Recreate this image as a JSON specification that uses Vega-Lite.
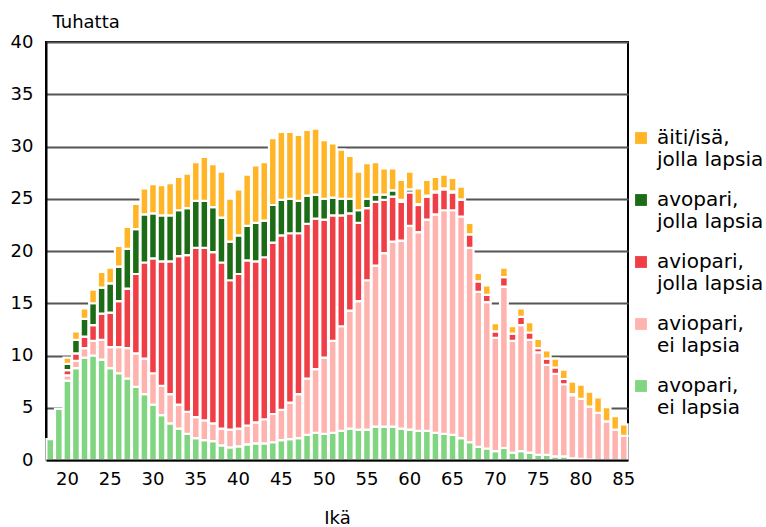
{
  "$schema": "https://vega.github.io/schema/vega-lite/v6.json",
  "autosize": {"type": "none"},
  "padding": {"left": 46, "top": 42, "right": 138, "bottom": 67},
  "width": 582,
  "height": 418,
  "background": "white",
  "config": {
    "view": {"stroke": "#000000", "strokeWidth": 2},
    "font": "DejaVu Sans",
    "axis": {"labelFont": "DejaVu Sans", "titleFont": "DejaVu Sans", "labelColor": "#000000", "titleColor": "#000000", "labelFontSize": 18, "titleFontSize": 18, "titleFontWeight": "normal"},
    "legend": {"labelFont": "DejaVu Sans", "labelFontSize": 20, "labelColor": "#000000"}
  },
  "data": {
    "values": [
      {"ika": 18, "ve": 2.0, "ae": 0, "aj": 0, "vj": 0, "ai": 0},
      {"ika": 19, "ve": 4.9, "ae": 0, "aj": 0, "vj": 0, "ai": 0},
      {"ika": 20, "ve": 7.6, "ae": 0.5, "aj": 0.5, "vj": 0.6, "ai": 0.6},
      {"ika": 21, "ve": 8.8, "ae": 0.7, "aj": 0.7, "vj": 1.3, "ai": 0.8},
      {"ika": 22, "ve": 9.8, "ae": 0.9, "aj": 1.1, "vj": 1.7, "ai": 1.0},
      {"ika": 23, "ve": 10.0, "ae": 1.4, "aj": 1.5, "vj": 2.1, "ai": 1.3},
      {"ika": 24, "ve": 9.6, "ae": 1.9, "aj": 2.5, "vj": 2.5, "ai": 1.5},
      {"ika": 25, "ve": 8.8, "ae": 2.0, "aj": 3.3, "vj": 2.8, "ai": 1.5},
      {"ika": 26, "ve": 8.3, "ae": 2.5, "aj": 4.4, "vj": 3.3, "ai": 2.0},
      {"ika": 27, "ve": 7.8, "ae": 2.9, "aj": 5.7, "vj": 3.8, "ai": 2.1},
      {"ika": 28, "ve": 7.0, "ae": 3.2, "aj": 7.6, "vj": 4.3, "ai": 2.4},
      {"ika": 29, "ve": 6.3, "ae": 3.4, "aj": 9.2, "vj": 4.6, "ai": 2.5},
      {"ika": 30, "ve": 5.3, "ae": 3.0, "aj": 11.0, "vj": 4.3, "ai": 2.8},
      {"ika": 31, "ve": 4.3, "ae": 2.8, "aj": 11.9, "vj": 4.4, "ai": 2.9},
      {"ika": 32, "ve": 3.5, "ae": 2.8, "aj": 12.7, "vj": 4.4, "ai": 3.1},
      {"ika": 33, "ve": 3.0, "ae": 2.3, "aj": 14.2, "vj": 4.4, "ai": 3.2},
      {"ika": 34, "ve": 2.5, "ae": 2.1, "aj": 15.0, "vj": 4.5, "ai": 3.3},
      {"ika": 35, "ve": 2.1, "ae": 2.0, "aj": 16.2, "vj": 4.5, "ai": 3.7},
      {"ika": 36, "ve": 1.9, "ae": 1.9, "aj": 16.5, "vj": 4.5, "ai": 4.2},
      {"ika": 37, "ve": 1.8, "ae": 1.7, "aj": 16.4, "vj": 4.3, "ai": 4.1},
      {"ika": 38, "ve": 1.4, "ae": 1.6, "aj": 15.9, "vj": 4.3, "ai": 4.4},
      {"ika": 39, "ve": 1.2, "ae": 1.7, "aj": 14.3, "vj": 3.7, "ai": 4.1},
      {"ika": 40, "ve": 1.3, "ae": 1.7, "aj": 14.8, "vj": 3.7, "ai": 4.4},
      {"ika": 41, "ve": 1.5, "ae": 1.8, "aj": 15.8, "vj": 3.3, "ai": 4.9},
      {"ika": 42, "ve": 1.6, "ae": 2.0, "aj": 15.4, "vj": 3.7, "ai": 5.5},
      {"ika": 43, "ve": 1.6, "ae": 2.3, "aj": 15.5, "vj": 3.5, "ai": 5.6},
      {"ika": 44, "ve": 1.7, "ae": 2.7, "aj": 16.4, "vj": 3.6, "ai": 6.4},
      {"ika": 45, "ve": 1.9, "ae": 2.9, "aj": 16.7, "vj": 3.4, "ai": 6.5},
      {"ika": 46, "ve": 2.0, "ae": 3.5, "aj": 16.2, "vj": 3.3, "ai": 6.4},
      {"ika": 47, "ve": 2.1, "ae": 4.2, "aj": 15.4, "vj": 3.1, "ai": 6.3},
      {"ika": 48, "ve": 2.4, "ae": 5.4, "aj": 14.8, "vj": 2.7, "ai": 6.3},
      {"ika": 49, "ve": 2.6, "ae": 6.1, "aj": 14.4, "vj": 2.3, "ai": 6.3},
      {"ika": 50, "ve": 2.5, "ae": 7.3, "aj": 13.2, "vj": 2.0, "ai": 5.6},
      {"ika": 51, "ve": 2.6, "ae": 8.8, "aj": 12.0, "vj": 1.7, "ai": 5.2},
      {"ika": 52, "ve": 2.8, "ae": 10.0, "aj": 10.6, "vj": 1.6, "ai": 4.7},
      {"ika": 53, "ve": 3.0, "ae": 11.3, "aj": 9.3, "vj": 1.4, "ai": 4.1},
      {"ika": 54, "ve": 2.9, "ae": 12.3, "aj": 7.5, "vj": 1.2, "ai": 3.7},
      {"ika": 55, "ve": 2.9, "ae": 14.3, "aj": 6.9, "vj": 0.9, "ai": 3.4},
      {"ika": 56, "ve": 3.2, "ae": 15.4, "aj": 6.1, "vj": 0.7, "ai": 3.1},
      {"ika": 57, "ve": 3.2, "ae": 16.6, "aj": 5.1, "vj": 0.5, "ai": 2.5},
      {"ika": 58, "ve": 3.2, "ae": 17.7, "aj": 4.3, "vj": 0.6, "ai": 2.1},
      {"ika": 59, "ve": 3.0, "ae": 18.0, "aj": 3.7, "vj": 0.2, "ai": 1.9},
      {"ika": 60, "ve": 2.9, "ae": 19.5, "aj": 3.2, "vj": 0.3, "ai": 1.7},
      {"ika": 61, "ve": 2.8, "ae": 19.0, "aj": 2.6, "vj": 0.1, "ai": 1.5},
      {"ika": 62, "ve": 2.8, "ae": 20.2, "aj": 2.2, "vj": 0.1, "ai": 1.5},
      {"ika": 63, "ve": 2.6, "ae": 20.9, "aj": 2.1, "vj": 0.1, "ai": 1.4},
      {"ika": 64, "ve": 2.5, "ae": 21.4, "aj": 2.0, "vj": 0.1, "ai": 1.3},
      {"ika": 65, "ve": 2.4, "ae": 21.5, "aj": 1.7, "vj": 0.1, "ai": 1.3},
      {"ika": 66, "ve": 2.1, "ae": 21.2, "aj": 1.6, "vj": 0.05, "ai": 1.2},
      {"ika": 67, "ve": 1.7, "ae": 18.6, "aj": 1.3, "vj": 0, "ai": 1.1},
      {"ika": 68, "ve": 1.25, "ae": 14.85, "aj": 1.0, "vj": 0, "ai": 0.8},
      {"ika": 69, "ve": 1.1, "ae": 14.0, "aj": 0.7, "vj": 0, "ai": 0.9},
      {"ika": 70, "ve": 0.85, "ae": 10.85, "aj": 0.6, "vj": 0, "ai": 0.8},
      {"ika": 71, "ve": 1.15, "ae": 15.45, "aj": 0.9, "vj": 0, "ai": 0.9},
      {"ika": 72, "ve": 0.7, "ae": 10.7, "aj": 0.7, "vj": 0, "ai": 0.7},
      {"ika": 73, "ve": 0.85, "ae": 12.05, "aj": 0.8, "vj": 0, "ai": 0.8},
      {"ika": 74, "ve": 0.7, "ae": 10.8, "aj": 0.7, "vj": 0, "ai": 1.0},
      {"ika": 75, "ve": 0.5, "ae": 9.8, "aj": 0.4, "vj": 0, "ai": 0.9},
      {"ika": 76, "ve": 0.5, "ae": 8.6, "aj": 0.6, "vj": 0, "ai": 0.8},
      {"ika": 77, "ve": 0.35, "ae": 7.9, "aj": 0.6, "vj": 0, "ai": 0.85},
      {"ika": 78, "ve": 0.35, "ae": 6.9, "aj": 0.5, "vj": 0, "ai": 0.9},
      {"ika": 79, "ve": 0.15, "ae": 6.05, "aj": 0.1, "vj": 0, "ai": 1.2},
      {"ika": 80, "ve": 0.1, "ae": 5.75, "aj": 0, "vj": 0, "ai": 1.35},
      {"ika": 81, "ve": 0.05, "ae": 5.05, "aj": 0, "vj": 0, "ai": 1.45},
      {"ika": 82, "ve": 0, "ae": 4.5, "aj": 0, "vj": 0, "ai": 1.5},
      {"ika": 83, "ve": 0, "ae": 3.7, "aj": 0, "vj": 0, "ai": 1.35},
      {"ika": 84, "ve": 0, "ae": 2.9, "aj": 0, "vj": 0, "ai": 1.3},
      {"ika": 85, "ve": 0, "ae": 2.3, "aj": 0, "vj": 0, "ai": 1.1}
    ]
  },
  "transform": [
    {"fold": ["ve", "ae", "aj", "vj", "ai"], "as": ["ryhma", "arvo"]},
    {"filter": "datum.arvo > 0"},
    {"calculate": "indexof(['ve','ae','aj','vj','ai'], datum.ryhma)", "as": "jarj"}
  ],
  "mark": {"type": "bar", "stroke": "#ffffff", "strokeWidth": 2.2},
  "encoding": {
    "x": {
      "field": "ika", "type": "ordinal", "sort": "ascending",
      "scale": {"paddingInner": 0.1, "paddingOuter": 0.05},
      "axis": {
        "title": "Ikä", "values": [20, 25, 30, 35, 40, 45, 50, 55, 60, 65, 70, 75, 80, 85],
        "labelAngle": 0, "ticks": false, "labelPadding": 10, "titlePadding": 21,
        "domain": true, "domainColor": "#000000", "domainWidth": 2, "zindex": 1, "grid": false
      }
    },
    "y": {
      "field": "arvo", "type": "quantitative", "stack": "zero",
      "scale": {"domain": [0, 40], "nice": false},
      "axis": {
        "title": "Tuhatta", "titleAngle": 0, "titleAlign": "left", "titleBaseline": "alphabetic",
        "titleX": 6, "titleY": -15,
        "values": [0, 5, 10, 15, 20, 25, 30, 35, 40],
        "ticks": false, "labelPadding": 13,
        "domain": true, "domainColor": "#000000", "domainWidth": 2,
        "grid": true, "gridColor": "#555555", "gridWidth": 2
      }
    },
    "color": {
      "field": "ryhma", "type": "nominal",
      "scale": {"domain": ["ai", "vj", "aj", "ae", "ve"], "range": ["#FFB526", "#1C6B17", "#EF3E45", "#FFB3AF", "#80D580"]},
      "legend": {
        "title": null, "orient": "none", "legendX": 585, "legendY": 86,
        "symbolType": "square", "symbolSize": 140, "symbolStrokeWidth": 0, "symbolOpacity": 1,
        "labelExpr": "{'ai': ['äiti/isä,', 'jolla lapsia'], 'vj': ['avopari,', 'jolla lapsia'], 'aj': ['aviopari,', 'jolla lapsia'], 'ae': ['aviopari,', 'ei lapsia'], 've': ['avopari,', 'ei lapsia']}[datum.value]",
        "labelOffset": 6, "rowPadding": 20, "labelLimit": 200
      }
    },
    "order": {"field": "jarj", "type": "quantitative", "sort": "ascending"}
  }
}
